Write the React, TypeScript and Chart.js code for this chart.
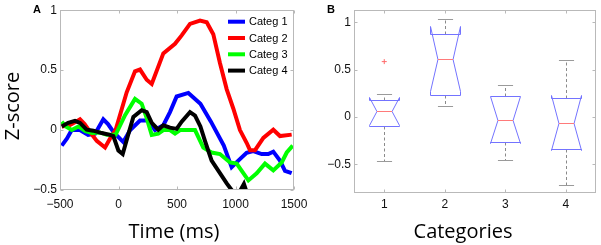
import React, { useEffect, useRef } from 'react';
import { Chart, registerables } from 'chart.js';

Chart.register(...registerables);

// ---------- Panel A data ----------
const seriesLabels = ['Categ 1', 'Categ 2', 'Categ 3', 'Categ 4'];
const seriesColors = ['#0000ff', '#ff0000', '#00ff00', '#000000'];

const timeCateg1 = [-485, -440, -400, -330, -260, -200, -130, -90, -40, 41, 100, 184, 255, 312, 383, 440, 497, 597, 700, 790, 900, 967, 1024, 1095, 1152, 1224, 1280, 1323, 1380, 1423, 1480];
const zCateg1 = [-0.13, -0.07, 0.0, 0.0, -0.04, -0.03, 0.09, 0.05, -0.02, -0.1, 0.0, 0.08, 0.08, 0.0, 0.04, 0.15, 0.28, 0.31, 0.22, 0.07, -0.13, -0.31, -0.255, -0.19, -0.175, -0.2, -0.2, -0.18, -0.255, -0.34, -0.36];

const timeCateg2 = [-485, -420, -380, -329, -290, -240, -186, -115, -60, -25, 70, 141, 184, 241, 284, 383, 483, 540, 611, 697, 754, 810, 867, 925, 981, 1038, 1095, 1124, 1167, 1238, 1323, 1380, 1480];
const zCateg2 = [0.03, 0.04, 0.06, 0.09, 0.05, -0.02, -0.09, -0.145, -0.05, 0.0, 0.315, 0.49, 0.505, 0.42, 0.385, 0.64, 0.72, 0.79, 0.886, 0.913, 0.9, 0.8, 0.56, 0.34, 0.18, 0.0, -0.106, -0.168, -0.168, -0.065, 0.003, -0.05, -0.038];

const timeCateg3 = [-485, -450, -400, -343, -283, -225, -160, -100, -25, 56, 141, 198, 241, 284, 340, 383, 440, 483, 526, 654, 725, 796, 867, 953, 1010, 1067, 1110, 1181, 1252, 1323, 1395, 1438, 1489];
const zCateg3 = [0.07, 0.03, 0.0, 0.03, -0.01, -0.025, -0.02, -0.04, -0.04, 0.125, 0.26, 0.22, 0.1, -0.04, -0.03, 0.0, 0.0, -0.03, 0.0, 0.0, -0.147, -0.187, -0.2, -0.27, -0.28, -0.36, -0.42, -0.36, -0.28, -0.336, -0.27, -0.187, -0.13];

const timeCateg4 = [-485, -430, -372, -329, -272, -215, -143, -73, -44, -1, 36, 84, 127, 198, 241, 284, 340, 383, 440, 497, 540, 611, 654, 700, 739, 796, 867, 925, 967, 1010, 1072, 1110, 1160];
const zCateg4 = [0.03, 0.06, 0.077, 0.06, 0.003, -0.005, -0.025, -0.04, -0.05, -0.17, -0.2, -0.035, 0.11, 0.166, 0.15, 0.06, 0.003, 0.04, 0.02, 0.01, 0.07, 0.15, 0.12, 0.03, -0.09, -0.255, -0.36, -0.445, -0.5, -0.56, -0.45, -0.56, -0.62];

const seriesTimes = [timeCateg1, timeCateg2, timeCateg3, timeCateg4];
const seriesValues = [zCateg1, zCateg2, zCateg3, zCateg4];

const timeMin = -500;
const timeMax = 1500;
const timeStep = 500;
const zMin = -0.5;
const zMax = 1;
const zStep = 0.5;

// ---------- Panel B data ----------
const boxCategories = ['1', '2', '3', '4'];
const boxQ1 = [-0.095, 0.235, -0.265, -0.337];
const boxMedian = [0.065, 0.617, -0.026, -0.06];
const boxQ3 = [0.18, 0.876, 0.217, 0.198];
const boxNotchLo = [-0.08, 0.27, -0.278, -0.35];
const boxNotchHi = [0.21, 0.965, 0.226, 0.23];
const boxWhiskerLo = [-0.465, 0.121, -0.454, -0.714];
const boxWhiskerHi = [0.24, 1.04, 0.343, 0.603];
const outlierCategory = ['1'];
const outlierValue = [0.585];

// ---------- styling ----------
const FRAME = '#b9b9b9';
const TICK_FONT = { family: "'Liberation Sans', Arial, sans-serif", size: 12 };
const TITLE_FONT = "20px 'Open Sans', sans-serif";
const LEGEND_FONT = "11px 'Liberation Sans', Arial, sans-serif";
const LETTER_FONT = "bold 11px 'Liberation Sans', Arial, sans-serif";

const fmt = (v: number) => {
  const s = String(Math.abs(Math.round(v * 1000) / 1000));
  return v < 0 ? '\u2212' + s : s;
};

const framePlugin = {
  id: 'matFrame',
  afterDraw(chart: any) {
    const { ctx, chartArea: a, scales } = chart;
    const xs = scales.x;
    const ys = scales.y;
    const L = Math.round(a.left) + 0.5;
    const R = Math.round(a.right) - 0.5;
    const T = Math.round(a.top) + 0.5;
    const B = Math.round(a.bottom) - 0.5;
    ctx.save();
    ctx.strokeStyle = FRAME;
    ctx.lineWidth = 1;
    ctx.strokeRect(L, T, R - L, B - T);
    ctx.beginPath();
    const tl = 3;
    xs.ticks.forEach((_t: any, i: number) => {
      const px = Math.round(xs.getPixelForTick(i)) + 0.5;
      ctx.moveTo(px, B); ctx.lineTo(px, B - tl);
      ctx.moveTo(px, T); ctx.lineTo(px, T + tl);
    });
    ys.ticks.forEach((_t: any, i: number) => {
      const py = Math.round(ys.getPixelForTick(i)) + 0.5;
      ctx.moveTo(L, py); ctx.lineTo(L + tl, py);
      ctx.moveTo(R, py); ctx.lineTo(R - tl, py);
    });
    ctx.stroke();
    ctx.restore();
  },
};

const textPlugin = {
  id: 'panelText',
  afterDraw(chart: any, _args: any, opts: any) {
    const { ctx } = chart;
    (opts.items || []).forEach((it: any) => {
      ctx.save();
      ctx.font = it.font;
      ctx.fillStyle = it.color || '#000';
      ctx.textAlign = it.align || 'left';
      ctx.textBaseline = 'alphabetic';
      ctx.translate(it.x, it.y);
      if (it.rotate) ctx.rotate(it.rotate);
      ctx.fillText(it.text, 0, 0);
      ctx.restore();
    });
  },
};

const legendPlugin = {
  id: 'innerLegend',
  afterDatasetsDraw(chart: any, _args: any, opts: any) {
    if (!opts || !opts.enabled) return;
    const { ctx, chartArea: a } = chart;
    ctx.save();
    ctx.font = LEGEND_FONT;
    ctx.textBaseline = 'middle';
    ctx.textAlign = 'left';
    chart.data.datasets.forEach((ds: any, i: number) => {
      const y = a.top + 11.5 + i * 16.3;
      const x0 = a.right - 66;
      ctx.strokeStyle = ds.borderColor;
      ctx.lineWidth = 4;
      ctx.beginPath();
      ctx.moveTo(x0, y);
      ctx.lineTo(x0 + 17, y);
      ctx.stroke();
      ctx.fillStyle = '#000';
      ctx.fillText(ds.label, x0 + 21, y + 0.5);
    });
    ctx.restore();
  },
};

const boxPlugin = {
  id: 'notchedBoxes',
  beforeDatasetsDraw(chart: any, _args: any, opts: any) {
    if (!opts || !opts.enabled) return;
    const { ctx, scales } = chart;
    const xs = scales.x;
    const ys = scales.y;
    const step = xs.getPixelForValue(1) - xs.getPixelForValue(0);
    const hw = step * 0.25;
    const inset = hw / 2;
    const capHalf = hw / 2;
    ctx.save();
    boxCategories.forEach((_c, i) => {
      const cx = Math.round(xs.getPixelForValue(i)) + 0.5;
      const py = (v: number) => Math.round(ys.getPixelForValue(v)) + 0.5;
      const q1 = py(boxQ1[i]);
      const q3 = py(boxQ3[i]);
      const md = py(boxMedian[i]);
      const nl = py(boxNotchLo[i]);
      const nh = py(boxNotchHi[i]);
      const wl = py(boxWhiskerLo[i]);
      const wh = py(boxWhiskerHi[i]);
      const L = Math.round(cx - hw) + 0.5;
      const R = Math.round(cx + hw) - 0.5;
      // whiskers (dashed)
      ctx.strokeStyle = '#8a8a8a';
      ctx.lineWidth = 1;
      ctx.setLineDash([3, 2.5]);
      ctx.beginPath();
      ctx.moveTo(cx, q3); ctx.lineTo(cx, wh);
      ctx.moveTo(cx, q1); ctx.lineTo(cx, wl);
      ctx.stroke();
      ctx.setLineDash([]);
      ctx.strokeStyle = '#9a9a9a';
      ctx.beginPath();
      ctx.moveTo(cx - capHalf, wh); ctx.lineTo(cx + capHalf, wh);
      ctx.moveTo(cx - capHalf, wl); ctx.lineTo(cx + capHalf, wl);
      ctx.stroke();
      // notched box
      ctx.strokeStyle = '#7373ff';
      ctx.beginPath();
      ctx.moveTo(L, q1);
      ctx.lineTo(L, nl);
      ctx.lineTo(cx - inset, md);
      ctx.lineTo(L, nh);
      ctx.lineTo(L, q3);
      ctx.lineTo(R, q3);
      ctx.lineTo(R, nh);
      ctx.lineTo(cx + inset, md);
      ctx.lineTo(R, nl);
      ctx.lineTo(R, q1);
      ctx.closePath();
      ctx.stroke();
      // median
      ctx.strokeStyle = '#ff7a7a';
      ctx.beginPath();
      ctx.moveTo(cx - inset, md);
      ctx.lineTo(cx + inset, md);
      ctx.stroke();
    });
    ctx.restore();
  },
};

function PanelA() {
  const ref = useRef<HTMLCanvasElement>(null);
  useEffect(() => {
    if (!ref.current) return;
    const chart = new Chart(ref.current, {
      type: 'line',
      data: {
        datasets: seriesLabels.map((label, k) => ({
          label,
          data: seriesTimes[k].map((t, i) => ({ x: t, y: seriesValues[k][i] })),
          borderColor: seriesColors[k],
          backgroundColor: seriesColors[k],
          borderWidth: 4,
          pointRadius: 0,
          tension: 0,
          fill: false,
          clip: 0,
          order: seriesLabels.length - 1 - k,
        })),
      },
      options: {
        animation: false,
        responsive: false,
        events: [],
        layout: { padding: { left: 0, top: 6, right: 26, bottom: 0 } },
        scales: {
          x: {
            type: 'linear',
            min: timeMin,
            max: timeMax,
            grid: { display: false, drawTicks: false },
            border: { display: false },
            ticks: {
              stepSize: timeStep,
              font: TICK_FONT,
              color: '#111',
              padding: 7,
              maxRotation: 0,
              autoSkip: false,
              callback: (v: any) => fmt(Number(v)),
            },
            afterFit: (s: any) => { s.height = 55; },
          },
          y: {
            type: 'linear',
            min: zMin,
            max: zMax,
            grid: { display: false, drawTicks: false },
            border: { display: false },
            ticks: {
              stepSize: zStep,
              font: TICK_FONT,
              color: '#111',
              padding: 3,
              callback: (v: any) => fmt(Number(v)),
            },
            afterFit: (s: any) => { s.width = 60; },
          },
        },
        plugins: {
          legend: { display: false },
          tooltip: { enabled: false },
          innerLegend: { enabled: true },
          panelText: {
            items: [
              { text: 'A', x: 33, y: 13, font: LETTER_FONT },
              { text: 'Time (ms)', x: 174, y: 238, font: TITLE_FONT, align: 'center' },
              { text: 'Z-score', x: 18.5, y: 106, font: TITLE_FONT, align: 'center', rotate: -Math.PI / 2 },
            ],
          },
        },
      } as any,
      plugins: [framePlugin, legendPlugin, textPlugin],
    });
    return () => chart.destroy();
  }, []);
  return (
    <canvas
      ref={ref}
      width={320}
      height={245}
      style={{ position: 'absolute', left: 0, top: 0, width: 320, height: 245 }}
    />
  );
}

function PanelB() {
  const ref = useRef<HTMLCanvasElement>(null);
  useEffect(() => {
    if (!ref.current) return;
    const all = [...boxWhiskerLo, ...boxWhiskerHi, ...outlierValue];
    const lo = Math.min(...all);
    const hi = Math.max(...all);
    const pad = (hi - lo) * 0.05;
    const chart = new Chart(ref.current, {
      type: 'scatter',
      data: {
        labels: boxCategories,
        datasets: [
          {
            label: 'outliers',
            data: outlierCategory.map((c, i) => ({ x: c, y: outlierValue[i] })),
            pointStyle: 'cross',
            pointRadius: 2.5,
            borderColor: '#ff6a6a',
            backgroundColor: '#ff6a6a',
            borderWidth: 1,
          },
        ],
      },
      options: {
        animation: false,
        responsive: false,
        events: [],
        layout: { padding: { left: 0, top: 6, right: 1, bottom: 0 } },
        scales: {
          x: {
            type: 'category',
            labels: boxCategories,
            offset: true,
            grid: { display: false, drawTicks: false, offset: true },
            border: { display: false },
            ticks: { font: TICK_FONT, color: '#111', padding: 4.5, maxRotation: 0, autoSkip: false },
            afterFit: (s: any) => { s.height = 52; },
          },
          y: {
            type: 'linear',
            min: lo - pad,
            max: hi + pad,
            grid: { display: false, drawTicks: false },
            border: { display: false },
            ticks: {
              stepSize: 0.5,
              includeBounds: false,
              font: TICK_FONT,
              color: '#111',
              padding: 3,
              callback: (v: any) => fmt(Number(v)),
            },
            afterFit: (s: any) => { s.width = 54; },
          },
        },
        plugins: {
          legend: { display: false },
          tooltip: { enabled: false },
          notchedBoxes: { enabled: true },
          panelText: {
            items: [
              { text: 'B', x: 27, y: 12.5, font: LETTER_FONT },
              { text: 'Categories', x: 163, y: 238, font: TITLE_FONT, align: 'center' },
            ],
          },
        },
      } as any,
      plugins: [boxPlugin, framePlugin, textPlugin],
    });
    return () => chart.destroy();
  }, []);
  return (
    <canvas
      ref={ref}
      width={301}
      height={245}
      style={{ position: 'absolute', left: 300, top: 0, width: 301, height: 245 }}
    />
  );
}

export default function App() {
  return (
    <div style={{ position: 'fixed', left: 0, top: 0, width: 601, height: 245, background: '#fff', overflow: 'hidden' }}>
      <PanelA />
      <PanelB />
    </div>
  );
}
